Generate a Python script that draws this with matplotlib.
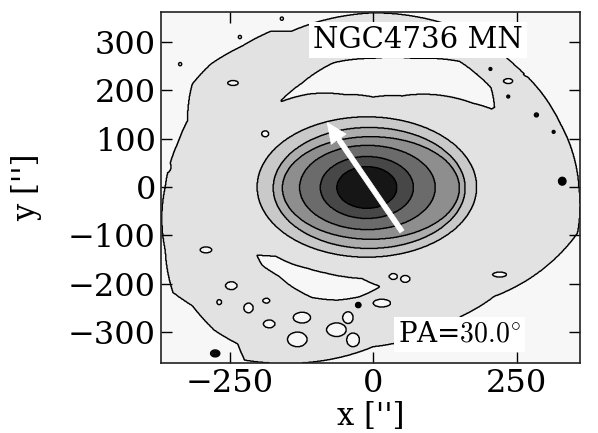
import numpy as np
import matplotlib.pyplot as plt

plt.rcParams['font.family'] = 'DejaVu Serif'
plt.rcParams['mathtext.fontset'] = 'cm'

# grey shades of the filled levels, from sky to core
shades = ['#f7f7f7', '#e2e2e2', '#c9c9c9', '#adadad', '#8e8e8e',
          '#6b6b6b', '#474747', '#161616']

# bulge isophotes: centre x, centre y, semi-axis x, semi-axis y  ['']
iso_xc = [-11, -7, -4, -10, -11, -11]
iso_yc = [0, -2, -2, -1, -1, -1]
iso_a = [191, 167, 154, 118, 81, 52]
iso_b = [145, 125, 106, 87, 64, 43]

# outer edge of the faint ring: radius [''] against angle [deg]
ring_ang = [0, 22, 38, 45, 60, 90, 114, 119, 128, 138, 146, 157, 165, 180, 200,
            212, 218, 227, 234, 238, 270, 300, 313, 345]
ring_rad = [358, 351, 352, 352, 360, 360, 352, 368, 370, 380, 380, 351, 352, 362, 385,
            411, 399, 405, 401, 422, 330, 308, 309, 368]

# the two fainter gaps between bulge and ring
gapN_ang = [38, 45, 60, 75, 90, 105, 120, 132]
gapN_in = [262, 245, 220, 195, 186, 198, 222, 238]
gapN_out = [268, 290, 300, 275, 266, 266, 248, 240]
gapS_ang = [215, 220, 228, 236, 245, 255, 264, 273]
gapS_in = [245, 222, 213, 203, 196, 192, 190, 205]
gapS_out = [247, 252, 247, 250, 252, 242, 228, 207]

# faint holes in the ring
hole_x = [56, 35, -124, -181, -64, -44, -132, -35, -247, -217, -186, -268, 15,
          220, 310, -244, 235, 270, 310, -360, -291, 122, -188]
hole_y = [-190, -185, -270, -283, -295, -270, -315, -316, -204, -250, -235, -238, -240,
          -181, -188, 215, 219, 233, 255, 42, -130, 218, 110]
hole_rx = [8, 7, 15, 10, 17, 9, 17, 11, 10, 8, 6, 4, 15,
           12, 11, 9, 8, 8, 20, 8, 10, 6, 6]
hole_ry = [7, 6, 11, 8, 14, 12, 15, 14, 8, 10, 5, 5, 8,
           5, 10, 5, 5, 5, 17, 13, 6, 6, 6]

# foreground stars and specks
star_x = [329, 284, -26, -275, -232, -336, -159, 314, 204, 235]
star_y = [12, 149, -244, -344, 310, 254, 348, 114, 244, 187]
star_rx = [8, 6, 6, 9, 4, 4, 4, 5, 5, 5]
star_ry = [10, 7, 7, 8, 5, 5, 5, 6, 6, 6]
star_top = [7.6, 3.6, 6.6, 4.6, 1.6, 1.6, 1.6, 3.0, 3.0, 3.0]

pa = 30.0
arrow_tail = (50, -92)
arrow_len = 260

x = np.linspace(-368.5, 360, 730)
y = np.linspace(-363.5, 361.5, 726)
X, Y = np.meshgrid(x, y)
R = np.hypot(X, Y)
T = np.degrees(np.arctan2(Y, X)) % 360

level = (R < np.interp(T, ring_ang, ring_rad, period=360)).astype(float)
for ang, rin, rout in [(gapN_ang, gapN_in, gapN_out), (gapS_ang, gapS_in, gapS_out)]:
    gap = (T >= ang[0]) & (T <= ang[-1]) & (R > np.interp(T, ang, rin)) & (R < np.interp(T, ang, rout))
    level[gap] = 0
for hx, hy, hrx, hry in zip(hole_x, hole_y, hole_rx, hole_ry):
    level[((X - hx) / hrx)**2 + ((Y - hy) / hry)**2 < 1] = 0
for xc, yc, a, b in zip(iso_xc, iso_yc, iso_a, iso_b):
    level += (((X - xc) / a)**2 + ((Y - yc) / b)**2 < 1)
for sx, sy, srx, sry, top in zip(star_x, star_y, star_rx, star_ry, star_top):
    d = np.sqrt(((X - sx) / srx)**2 + ((Y - sy) / sry)**2)
    level = np.maximum(level, top * (1 - d))

fig = plt.figure(figsize=(5.98, 4.33), dpi=100)
ax = fig.add_axes([0.270, 0.162, 0.700, 0.810])

bounds = np.arange(len(shades) + 1) - 0.5
ax.contourf(X, Y, level, levels=bounds, colors=shades)
ax.contour(X, Y, level, levels=bounds[1:-1], colors='k', linewidths=1.0)

tip = (arrow_tail[0] - arrow_len * np.sin(np.radians(pa)),
       arrow_tail[1] + arrow_len * np.cos(np.radians(pa)))
ax.annotate('', xy=tip, xytext=arrow_tail,
            arrowprops=dict(arrowstyle='simple,head_length=1.45,head_width=1.3,tail_width=0.36',
                            fc='white', ec='white', lw=0.5, shrinkA=0, shrinkB=0,
                            mutation_scale=10))

ax.text(0.613, 0.92, 'NGC4736 MN', transform=ax.transAxes, ha='center', va='center',
        fontsize=21, bbox=dict(fc='white', ec='none', pad=3))
ax.text(0.712, 0.081, r'PA=$%.1f^{\circ}$' % pa, transform=ax.transAxes, ha='center',
        va='center', fontsize=20, bbox=dict(fc='white', ec='none', pad=3))

ax.set_xlim(-368.5, 360)
ax.set_ylim(-363.5, 361.5)
ax.set_xticks([-250, 0, 250])
ax.set_yticks(range(-300, 301, 100))
ax.tick_params(direction='in', top=True, right=True, length=8, width=1,
               labelsize=23, pad=4)
for s in ax.spines.values():
    s.set_linewidth(1.2)
    s.set_color('#222222')

ax.set_xlabel("x ['']", fontsize=22)
ax.set_ylabel("y ['']", fontsize=22)
ax.xaxis.set_label_coords(0.5, -0.108)
ax.yaxis.set_label_coords(-0.284, 0.5)

fig.savefig('out.png', dpi=100)
